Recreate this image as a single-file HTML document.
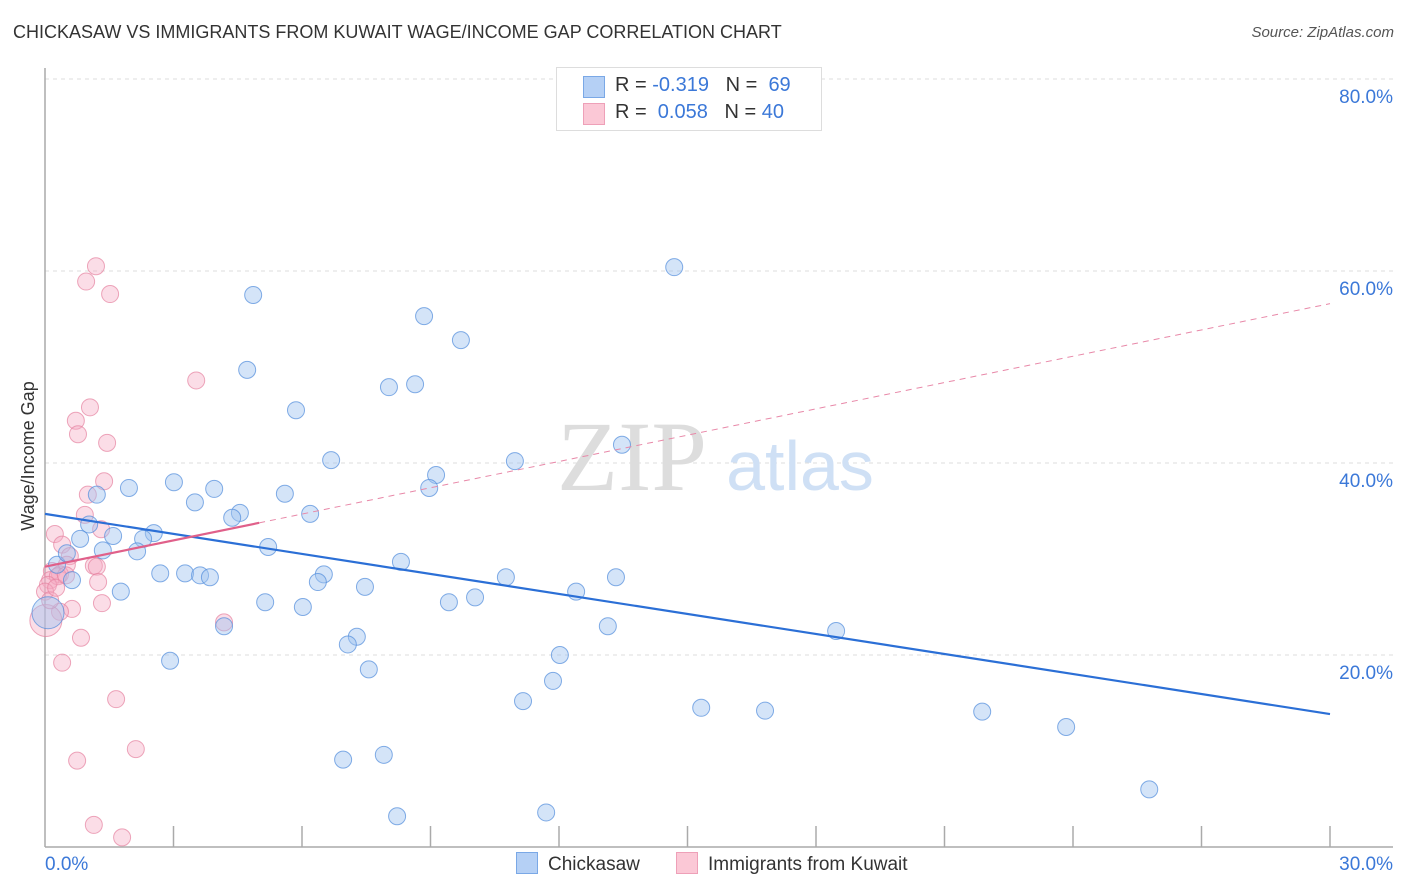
<!DOCTYPE html>
<html><head><meta charset="utf-8">
<style>
body{margin:0;background:#fff;font-family:"Liberation Sans",sans-serif;}
#wrap{position:relative;width:1406px;height:892px;overflow:hidden;}
.t{position:absolute;white-space:nowrap;}
</style></head>
<body>
<div id="wrap">
<div class="t" style="left:13px;top:22px;font-size:18px;color:#333;">CHICKASAW VS IMMIGRANTS FROM KUWAIT WAGE/INCOME GAP CORRELATION CHART</div>
<div class="t" style="right:12px;top:24px;font-size:15px;color:#555;font-style:italic;">Source: ZipAtlas.com</div>
<svg id="svg" width="1406" height="892" style="position:absolute;left:0;top:0"></svg>
</div>
<script>
const yTicks=[20,40,60,80];
const xTickLabels=["0.0%","30.0%"];
const blueX=[4.86,14.69,8.85,9.71,4.72,8.03,8.64,5.86,6.68,10.97,13.47,9.13,8.97,3.01,1.96,1.21,3.95,3.50,5.60,4.55,4.37,6.19,1.03,2.54,1.59,0.82,2.29,1.35,2.15,5.21,0.28,0.51,0.63,1.77,2.69,3.27,3.62,3.85,6.51,6.37,8.31,7.47,10.76,13.33,12.40,10.04,9.43,5.14,6.02,4.18,13.14,7.28,7.07,18.47,2.92,12.02,7.56,11.86,11.16,15.32,16.81,21.88,23.84,6.96,7.91,8.22,11.70,25.78,0.07];
const blueY=[57.5,60.4,55.3,52.8,49.7,47.9,48.2,45.5,40.3,40.2,41.9,38.75,37.4,38.0,37.4,36.7,37.3,35.9,36.8,34.8,34.3,34.7,33.6,32.7,32.4,32.1,32.1,30.9,30.8,31.25,29.4,30.6,27.8,26.6,28.5,28.5,28.3,28.1,28.4,27.6,29.7,27.1,28.1,28.1,26.6,26.0,25.5,25.5,25.0,23.0,23.0,21.9,21.1,22.5,19.4,20.0,18.5,17.3,15.2,14.5,14.2,14.1,12.5,9.1,9.6,3.2,3.6,6.0,24.4];
const pinkX=[1.19,0.96,1.52,3.53,1.05,0.72,0.77,1.45,1.38,1.00,0.93,1.31,0.23,0.40,0.58,0.51,1.14,1.21,0.16,0.35,0.12,0.30,0.07,1.24,0.0,1.33,0.63,0.35,0.84,4.18,0.02,0.40,1.66,2.12,0.75,1.14,1.80,0.12,0.26,0.49];
const pinkY=[60.5,58.9,57.6,48.6,45.8,44.4,43.0,42.1,38.1,36.7,34.6,33.1,32.6,31.5,30.3,29.4,29.3,29.2,28.75,28.4,27.8,28.2,27.3,27.6,26.6,25.4,24.8,24.5,21.8,23.4,23.6,19.2,15.4,10.2,9.0,2.3,1.0,25.7,27.0,28.3];
const blueTrend=[34.7,13.85];
const pinkTrend=[29.2,56.6];
const pinkSolidEnd=5.0;
const xMax=30;

const X0=45,X1=1330,Y0=847,PXY=9.6;
function sx(v){return X0+(X1-X0)*v/xMax;}
function sy(v){return Y0-v*PXY;}
const svg=document.getElementById('svg');
const NS='http://www.w3.org/2000/svg';
function mk(tag,attrs,parent){const e=document.createElementNS(NS,tag);for(const k in attrs)e.setAttribute(k,attrs[k]);(parent||svg).appendChild(e);return e;}

// gridlines & right labels
yTicks.forEach(v=>{
  const g=mk('line',{x1:X0,x2:1393,y1:sy(v),y2:sy(v),stroke:'#ddd','stroke-dasharray':'4,4'});
  
  
  const t=mk('text',{x:1393,y:sy(v)+24,'text-anchor':'end','font-size':19,fill:'#3b78d8','font-family':'Liberation Sans, sans-serif'});
  t.textContent=v.toFixed(1)+'%';
  
  
});
// axes
const ax=mk('line',{x1:X0,x2:1393,y1:Y0,y2:Y0,stroke:'#aaa','stroke-width':1.5});


const ay=mk('line',{x1:X0,x2:X0,y1:68,y2:Y0,stroke:'#aaa','stroke-width':1.5});


for(let k=1;k<=10;k++){
  const tk=mk('line',{x1:sx(k*3),x2:sx(k*3),y1:826,y2:Y0,stroke:'#aaa','stroke-width':1.5});
  
  
}
const xl0=mk('text',{x:45,y:870,'font-size':19,fill:'#3b78d8','font-family':'Liberation Sans, sans-serif'});
xl0.textContent=xTickLabels[0];


const xl1=mk('text',{x:1393,y:870,'text-anchor':'end','font-size':19,fill:'#3b78d8','font-family':'Liberation Sans, sans-serif'});
xl1.textContent=xTickLabels[1];


const yt=mk('text',{x:0,y:0,transform:'translate(34,456) rotate(-90)','text-anchor':'middle','font-size':18,fill:'#333','font-family':'Liberation Sans, sans-serif'});
yt.textContent='Wage/Income Gap';


// watermark
const w1=mk('text',{x:632,y:490,'text-anchor':'middle','font-size':100,fill:'#ddd','font-family':'Liberation Serif, serif'});
w1.textContent='ZIP';


const w2=mk('text',{x:800,y:490,'text-anchor':'middle','font-size':70,fill:'#cfe0f5','font-family':'Liberation Sans, sans-serif'});
w2.textContent='atlas';


// points
pinkX.forEach((x,i)=>{
  const c=mk('circle',{cx:sx(x),cy:sy(pinkY[i]),r:(i==30?16:8.5),fill:'rgba(245,170,195,0.4)',stroke:'rgba(230,130,160,0.7)','stroke-width':1});
  
  
});
blueX.forEach((x,i)=>{
  const c=mk('circle',{cx:sx(x),cy:sy(blueY[i]),r:(i==68?16:8.5),fill:'rgba(160,195,240,0.45)',stroke:'rgba(80,140,220,0.7)','stroke-width':1});
  
  
});
// trend lines
const bl=mk('line',{x1:sx(0),y1:sy(blueTrend[0]),x2:sx(xMax),y2:sy(blueTrend[1]),stroke:'#2b6fd6','stroke-width':2.2});


const pe=pinkTrend[0]+(pinkTrend[1]-pinkTrend[0])*pinkSolidEnd/xMax;
const pd=mk('line',{x1:sx(pinkSolidEnd),y1:sy(pe),x2:sx(xMax),y2:sy(pinkTrend[1]),stroke:'#e888a8','stroke-width':1,'stroke-dasharray':'6,5'});


const ps=mk('line',{x1:sx(0),y1:sy(pinkTrend[0]),x2:sx(pinkSolidEnd),y2:sy(pe),stroke:'#e0608a','stroke-width':2.2});


</script>
<div class="t" style="left:556px;top:67px;width:264px;height:62px;border:1px solid #ddd;background:#fff;font-size:20px;">
  <div style="position:absolute;left:26px;top:8px;width:20px;height:20px;background:#b5d0f5;border:1px solid #7aa8e6;"></div>
  <div class="t" style="left:58px;top:6px;color:#333;">R = <span style="color:#3b78d8">-0.319</span>&nbsp;&nbsp;&nbsp;N = &nbsp;<span style="color:#3b78d8">69</span></div>
  <div style="position:absolute;left:26px;top:35px;width:20px;height:20px;background:#fbc8d6;border:1px solid #eea0b8;"></div>
  <div class="t" style="left:58px;top:33px;color:#333;">R = &nbsp;<span style="color:#3b78d8">0.058</span>&nbsp;&nbsp;&nbsp;N = <span style="color:#3b78d8">40</span></div>
</div>
<div class="t" style="left:516px;top:852px;font-size:19px;color:#333;"><span style="display:inline-block;width:20px;height:20px;background:#b5d0f5;border:1px solid #7aa8e6;vertical-align:-4px;margin-right:10px;"></span>Chickasaw</div>
<div class="t" style="left:676px;top:852px;font-size:19px;color:#333;"><span style="display:inline-block;width:20px;height:20px;background:#fbc8d6;border:1px solid #eea0b8;vertical-align:-4px;margin-right:10px;"></span>Immigrants from Kuwait</div>
</body></html>
